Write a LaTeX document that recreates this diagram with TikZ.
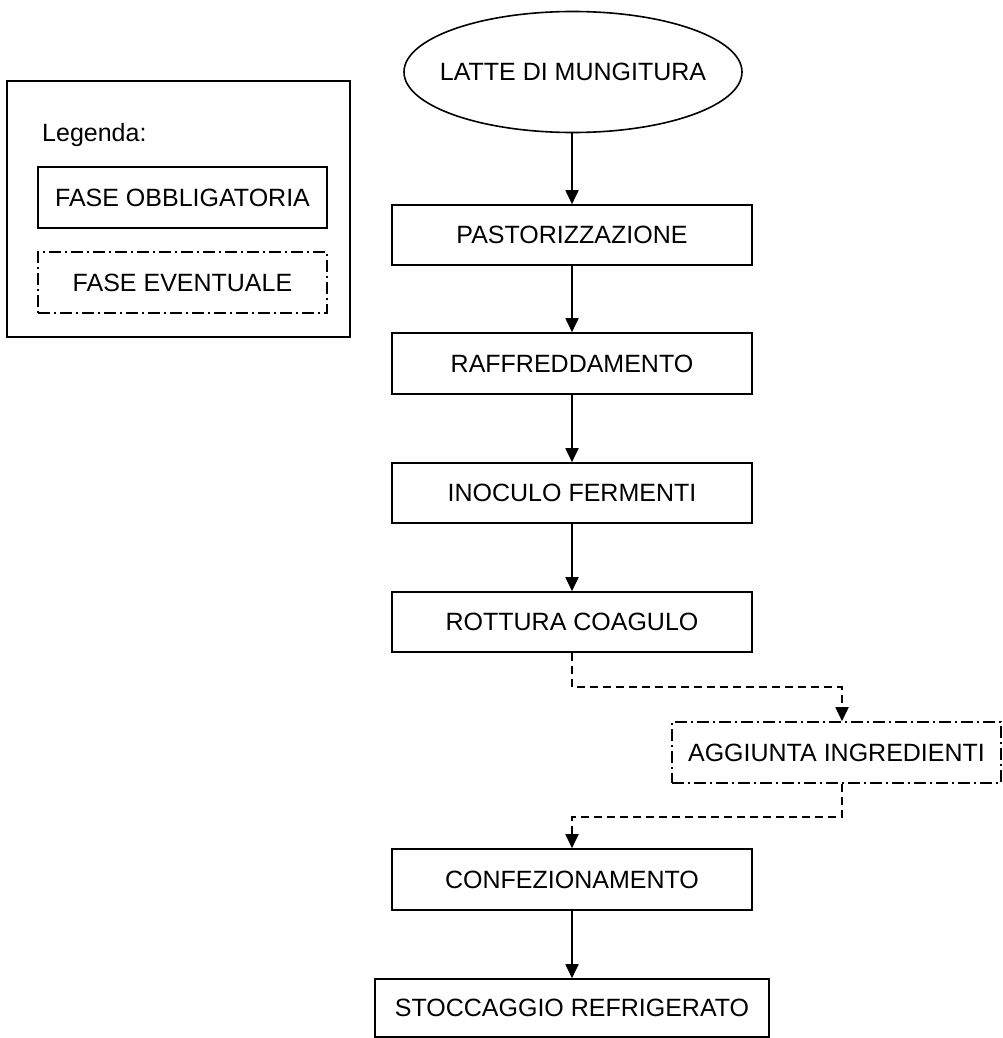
\documentclass[tikz,border=0pt]{standalone}
\usepackage{fontspec}
\setmainfont{Liberation Sans}
\usetikzlibrary{arrows.meta,shapes.geometric}
\begin{document}
\begin{tikzpicture}[x=1pt,y=-1pt,
 lbl/.style={font=\fontsize{25}{30}\selectfont, inner sep=0pt},
 box/.style={draw, line width=1.6pt, inner sep=0pt, font=\fontsize{25}{30}\selectfont},
 optbox/.style={box, dash pattern=on 12pt off 4pt on 2pt off 4pt},
 flow/.style={line width=1.8pt, -{Triangle[width=13pt,length=14pt]}},
 optflow/.style={flow, dash pattern=on 8pt off 5pt}]
\useasboundingbox (0,0) rectangle (1002,1038);
% legend
\node[box, minimum width=343pt, minimum height=256pt] (leg) at (178.5,209) {};
\node[lbl, anchor=base west] (legt) at (42,141) {Legenda:};
\node[box, minimum width=289pt, minimum height=61pt] (lob) at (182.5,197.5) {FASE OBBLIGATORIA};
\node[optbox, minimum width=289pt, minimum height=61pt] (lev) at (182.5,282.5) {FASE EVENTUALE};
% flow
\node[box, ellipse, inner xsep=-14pt, minimum width=338pt, minimum height=121pt] (latte) at (573,72) {LATTE DI MUNGITURA};
\node[box, minimum width=360pt, minimum height=60pt] (past) at (572,235) {PASTORIZZAZIONE};
\node[box, minimum width=360pt, minimum height=61pt] (raff) at (572,363.5) {RAFFREDDAMENTO};
\node[box, minimum width=360pt, minimum height=60pt] (inoc) at (572,493) {INOCULO FERMENTI};
\node[box, minimum width=360pt, minimum height=60pt] (rott) at (572,622) {ROTTURA COAGULO};
\node[optbox, minimum width=329pt, minimum height=61pt] (agg) at (836.5,752.5) {AGGIUNTA INGREDIENTI};
\node[box, minimum width=360pt, minimum height=61pt] (conf) at (572,879.5) {CONFEZIONAMENTO};
\node[box, minimum width=394pt, minimum height=58pt] (stoc) at (572,1008) {STOCCAGGIO REFRIGERATO};
\coordinate (j1) at (842,687);
\coordinate (j2) at (842,817);
\draw[flow] (latte.south -| past.north) -- (past.north);
\draw[flow] (past.south) -- (raff.north);
\draw[flow] (raff.south) -- (inoc.north);
\draw[flow] (inoc.south) -- (rott.north);
\draw[optflow] (rott.south) |- (j1) -- (j1 |- agg.north);
\draw[optflow] (j2 |- agg.south) -- (j2) -| (conf.north);
\draw[flow] (conf.south) -- (stoc.north);
\end{tikzpicture}
\end{document}
